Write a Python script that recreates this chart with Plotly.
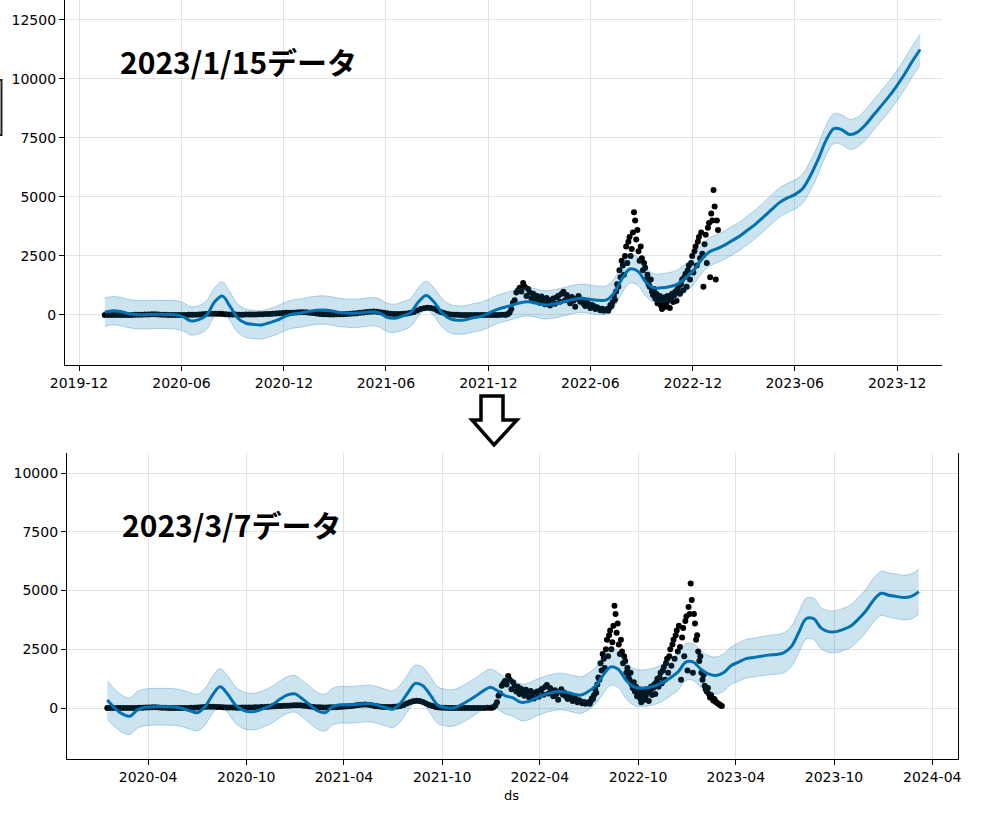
import pandas as pd
import plotly.graph_objects as go

# ---------------- observed daily values (shared by both panels) ----------------
obs_a_start = "2020-01-16"   # sampled every 6 days
obs_a = [0, 0, 0, 0, 0, 1, 1, 2, 3, 5,
         8, 12, 18, 25, 30, 28, 20, 12, 8, 4,
         2, 1, 1, 2, 3, 5, 8, 12, 20, 30,
         40, 50, 55, 55, 48, 40, 32, 25, 20, 18,
         15, 15, 18, 20, 25, 25, 30, 35, 40, 45,
         55, 65, 75, 80, 90, 95, 100, 110, 115, 120,
         115, 100, 80, 60, 45, 35, 30, 25, 25, 28,
         30, 35, 40, 50, 60, 75, 90, 110, 125, 140,
         145, 135, 115, 90, 70, 55, 45, 40, 42, 50,
         65, 90, 130, 190, 250, 290, 305, 300, 260, 190,
         130, 80, 45, 25, 12, 6, 4, 3, 2, 2,
         2, 1, 1, 1, 2, 2, 3, 4, 6, 10]
obs_b_start = "2022-01-02"   # sampled every 3 days
obs_b = [15, 40, 110, 250, 520, 620, 950, 1050, 1150, 1000,
         1360, 1200, 800, 1100, 950, 700, 900, 600, 820, 750,
         520, 780, 680, 450, 720, 600, 400, 650, 700, 480,
         750, 820, 560, 900, 980, 620, 850, 700, 500, 760,
         600, 350, 700, 800, 560, 650, 480, 380, 520, 450,
         300, 420, 380, 250, 330, 280, 200, 260, 180, 220]
obs_c_start = "2022-07-01"   # sampled every 2 days
obs_c = [250, 180, 300, 420, 380, 550, 800, 650, 1000, 1300,
         1200, 1900, 1600, 2300, 2100, 1700, 2500, 2900, 2200, 3100,
         3300, 2500, 2800, 3500, 4350, 4000, 3200, 3600, 2700, 2300,
         2900, 2400, 1900, 2200, 2000, 1500, 1700, 1300, 1200, 1500,
         1000, 850, 1100, 700, 900, 500, 650, 800, 400, 250,
         600, 750, 350, 500, 800, 650, 300, 700, 900, 550,
         850, 1000, 600, 1100, 1250, 900, 1300, 1500, 1050, 1600,
         1750, 1200, 1900, 2100, 1500, 2200, 2500, 1800, 2700, 2900,
         2100, 3100, 3300, 2400, 3500, 2600, 1200, 3000, 3400, 2200,
         3700, 3900, 1600, 4300, 4000, 5300, 4600, 1500, 4000, 3600,
         2900, 3100, 2400, 2000, 2200, 1500, 1200, 1400, 950, 800,
         700, 850, 600, 450, 550, 400, 320, 380, 280, 240,
         200, 170, 140, 110, 90]
top_data_end = "2023-01-15"
bottom_data_end = "2023-03-07"

# ---------------- forecasts (sampled every 14 days from fc_start) ----------------
fc_start = "2020-01-16"
top_yhat = [120, 180, 150, 60, 20, 10, 20, 30, 20, 10,
            -80, -250, -200, 0, 550, 800, 350, -150, -350, -400,
            -420, -330, -220, -60, 40, 80, 150, 200, 210, 170,
            100, 80, 70, 100, 140, 90, -100, -140, -40, 100,
            550, 830, 550, 100, -150, -220, -200, -120, -60, 80,
            230, 330, 420, 520, 560, 500, 430, 450, 520, 600,
            680, 710, 660, 620, 640, 950, 1550, 1950, 1850, 1400,
            1150, 1150, 1200, 1300, 1550, 1850, 2300, 2650, 2800, 2950,
            3150, 3350, 3600, 3850, 4150, 4450, 4750, 4950, 5100, 5350,
            5900, 6600, 7400, 7900, 7850, 7650, 7750, 8050, 8450, 8850,
            9250, 9700, 10200, 10750, 11250]
top_halfwidth = [600, 600, 600, 600, 600, 600, 600, 600, 600, 600,
                 600, 600, 600, 600, 600, 600, 600, 600, 600, 600,
                 600, 600, 600, 600, 600, 600, 600, 600, 600, 600,
                 600, 600, 600, 600, 600, 600, 600, 600, 600, 600,
                 600, 600, 600, 600, 600, 600, 600, 600, 600, 600,
                 600, 600, 600, 600, 600, 600, 600, 600, 600, 600,
                 600, 600, 600, 600, 600, 600, 600, 600, 600, 600,
                 600, 600, 600, 600, 600, 600, 600, 600, 600, 600,
                 605, 605, 610, 610, 610, 615, 615, 620, 620, 620,
                 625, 625, 630, 630, 630, 635, 635, 640, 640, 640,
                 645, 645, 650, 650, 650]
bot_yhat = [340, 0, -250, -350, -80, 30, 50, 60, 50, 40,
            -20, -120, -200, 50, 550, 900, 600, 150, -80, -160,
            -120, 0, 150, 380, 560, 600, 380, 120, -120, -200,
            60, 140, 130, 150, 180, 190, 120, 20, -50, 200,
            650, 1050, 950, 550, 120, 20, 0, 120, 300, 500,
            720, 880, 720, 520, 430, 250, 270, 420, 550, 640,
            700, 680, 600, 550, 700, 950, 1400, 1750, 1650, 1200,
            910, 840, 870, 950, 1100, 1300, 1550, 1950, 1950, 1650,
            1450, 1380, 1500, 1800, 1950, 2100, 2150, 2200, 2250, 2280,
            2350, 2600, 3200, 3800, 3800, 3400, 3250, 3250, 3350, 3500,
            3800, 4150, 4600, 4880, 4800, 4750, 4700, 4750, 4950]
bot_halfwidth = [820, 800, 790, 780, 780, 780, 780, 780, 780, 780,
                 780, 780, 780, 780, 780, 780, 780, 780, 780, 780,
                 780, 780, 780, 780, 780, 780, 780, 780, 780, 780,
                 780, 780, 780, 780, 780, 780, 780, 780, 780, 780,
                 780, 780, 780, 780, 780, 780, 780, 780, 780, 780,
                 780, 780, 780, 780, 780, 780, 780, 780, 780, 780,
                 780, 780, 780, 780, 780, 780, 780, 780, 780, 780,
                 780, 780, 780, 780, 780, 780, 780, 780, 780, 780,
                 780, 790, 800, 800, 810, 820, 820, 830, 840, 840,
                 850, 860, 860, 870, 880, 880, 890, 900, 900, 910,
                 920, 920, 930, 940, 940, 950, 950, 960, 960]

top_title = "2023/1/15データ"
bottom_title = "2023/3/7データ"
x_label = "ds"

# ---------------- build tables ----------------
obs = pd.concat([
    pd.DataFrame({"ds": pd.date_range(obs_a_start, periods=len(obs_a), freq="6D"), "y": obs_a}),
    pd.DataFrame({"ds": pd.date_range(obs_b_start, periods=len(obs_b), freq="3D"), "y": obs_b}),
    pd.DataFrame({"ds": pd.date_range(obs_c_start, periods=len(obs_c), freq="2D"), "y": obs_c}),
])
obs_top = obs[obs["ds"] <= top_data_end]
obs_bot = obs[obs["ds"] <= bottom_data_end]

top_fc = pd.DataFrame({"ds": pd.date_range(fc_start, periods=len(top_yhat), freq="14D"),
                       "yhat": top_yhat, "hw": top_halfwidth})
bot_fc = pd.DataFrame({"ds": pd.date_range(fc_start, periods=len(bot_yhat), freq="14D"),
                       "yhat": bot_yhat, "hw": bot_halfwidth})

W, H = 1006, 840
def px(x):
    return x / W
def py(y):
    return 1 - y / H

BLUE = "#0072B2"
BAND = "rgba(0,114,178,0.2)"
EDGE = "rgba(0,114,178,0.28)"

fig = go.Figure()

def add_panel(o, fc, xa, ya):
    fig.add_trace(go.Scatter(x=o["ds"], y=o["y"], mode="markers", xaxis=xa, yaxis=ya,
                             marker=dict(color="black", size=6), hoverinfo="skip"))
    fig.add_trace(go.Scatter(x=fc["ds"], y=fc["yhat"], mode="lines", xaxis=xa, yaxis=ya,
                             line=dict(color=BLUE, width=3, shape="spline"), hoverinfo="skip"))
    fig.add_trace(go.Scatter(x=fc["ds"], y=fc["yhat"] - fc["hw"], mode="lines", xaxis=xa, yaxis=ya,
                             line=dict(color=EDGE, width=1, shape="spline"), hoverinfo="skip"))
    fig.add_trace(go.Scatter(x=fc["ds"], y=fc["yhat"] + fc["hw"], mode="lines", xaxis=xa, yaxis=ya,
                             fill="tonexty", fillcolor=BAND,
                             line=dict(color=EDGE, width=1, shape="spline"), hoverinfo="skip"))

add_panel(obs_top, top_fc, "x", "y")
add_panel(obs_bot, bot_fc, "x2", "y2")

axis_common = dict(showgrid=True, gridcolor="rgba(128,128,128,0.22)", gridwidth=1,
                   showline=True, linecolor="black", linewidth=1.3, automargin=False,
                   ticks="outside", ticklen=5, tickcolor="black", tickwidth=1,
                   zeroline=False, tickfont=dict(family="DejaVu Sans", size=14, color="black"))

fig.update_layout(
    width=W, height=H, margin=dict(l=0, r=0, t=0, b=0, autoexpand=False),
    plot_bgcolor="white", paper_bgcolor="white", showlegend=False,
    xaxis=dict(domain=[px(65), px(942)], anchor="y", type="date",
               range=["2019-11-06", "2024-02-19"], tick0="2019-12-01", dtick="M6",
               tickformat="%Y-%m", **axis_common),
    yaxis=dict(domain=[py(365), 1], anchor="x", range=[-2119, 13347],
               tick0=0, dtick=2500, tickformat="d", **axis_common),
    xaxis2=dict(domain=[px(67), px(958)], anchor="y2", type="date",
                range=["2019-11-02", "2024-05-19"], tick0="2020-04-01", dtick="M6",
                tickformat="%Y-%m", **axis_common),
    yaxis2=dict(domain=[py(759), py(453)], anchor="x2", range=[-2170, 10851],
                tick0=0, dtick=2500, tickformat="d", mirror=True, **axis_common),
)

title_font = dict(family="Noto Sans CJK JP", size=30, color="black")
fig.add_annotation(xref="paper", yref="paper", x=px(118), y=py(61), text="<b>%s</b>" % top_title,
                   showarrow=False, xanchor="left", yanchor="middle", font=title_font)
fig.add_annotation(xref="paper", yref="paper", x=px(120), y=py(524), text="<b>%s</b>" % bottom_title,
                   showarrow=False, xanchor="left", yanchor="middle", font=title_font)
fig.add_annotation(xref="paper", yref="paper", x=px(512), y=py(795), text=x_label,
                   showarrow=False, xanchor="center", yanchor="middle",
                   font=dict(family="DejaVu Sans", size=13, color="black"))

# hollow down arrow between panels
arrow_pts = [(481, 396), (503, 396), (503, 420), (517, 420), (494, 445), (472, 420), (481, 420)]
path = "M " + " L ".join("%.5f,%.5f" % (px(a), py(b)) for a, b in arrow_pts) + " Z"
fig.add_shape(type="path", xref="paper", yref="paper", path=path,
              line=dict(color="black", width=3.5), fillcolor="white")

# partially visible rounded box at the left edge
fig.add_shape(type="rect", xref="paper", yref="paper", x0=px(-20), x1=px(1.5), y0=py(135), y1=py(80),
              line=dict(color="#222", width=2))

fig.write_html("out.html", config={"displayModeBar": False})
